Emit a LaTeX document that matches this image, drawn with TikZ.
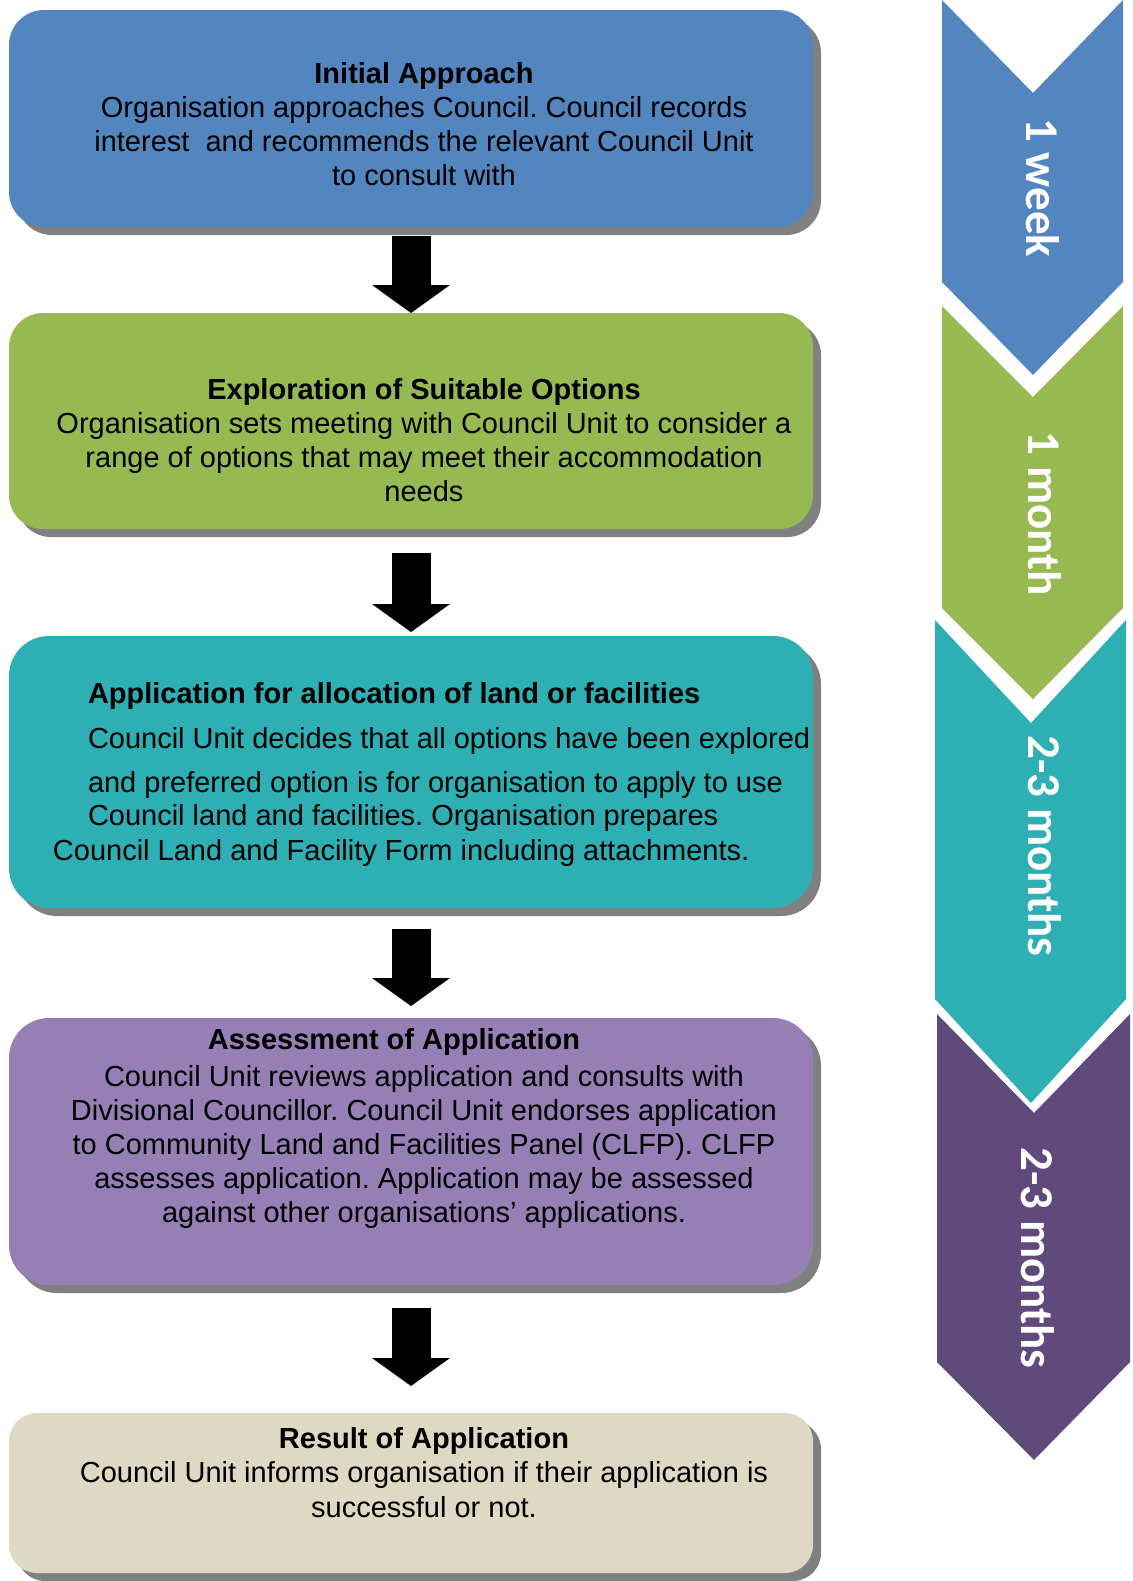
\documentclass[tikz,border=0pt]{standalone}
\usepackage{fontspec}
\setmainfont{Liberation Sans}
\newfontfamily\chevfont{Carlito}
\usetikzlibrary{arrows.meta,shadows}
\frenchspacing

\definecolor{stepblue}{HTML}{5385BF}
\definecolor{stepgreen}{HTML}{96B952}
\definecolor{stepteal}{HTML}{2EAFB4}
\definecolor{steppurple}{HTML}{957FB4}
\definecolor{stepbeige}{HTML}{DDD9C3}
\definecolor{chevpurple}{HTML}{5F4A7B}
\definecolor{shadowgray}{HTML}{808080}

\tikzset{
  stagebox/.style={draw=none, inner sep=0pt, outer sep=0pt, minimum width=402pt,
    drop shadow={shadow xshift=4pt, shadow yshift=-4pt, fill=shadowgray, opacity=1}},
  stagetext/.style={inner sep=0pt, outer sep=0pt, text=black,
    font=\fontsize{14.5}{17}\selectfont},
  flowarrow/.style={draw=black, line width=19.5pt,
    -{Triangle[width=39pt,length=14pt,line width=0pt]}},
  chevtext/.style={rotate=-90, anchor=base, inner sep=0pt, text=white,
    font=\chevfont\bfseries\fontsize{23.5}{26}\selectfont}
}

\begin{document}
\begin{tikzpicture}[x=0.5pt,y=-0.5pt]
\useasboundingbox (0,0) rectangle (1132,1581);

% timeline chevrons
\fill[stepblue]   (942,0) -- (1033,93) -- (1123,0) -- (1123,282) -- (1033,375) -- (942,282) -- cycle;
\fill[stepgreen]  (942,306) -- (1033,397) -- (1123,306) -- (1123,608) -- (1033,699) -- (942,608) -- cycle;
\fill[stepteal]   (935,620) -- (1031,723) -- (1126,620) -- (1126,999) -- (1031,1103) -- (935,999) -- cycle;
\fill[chevpurple] (937,1014) -- (1034,1113) -- (1130,1014) -- (1130,1362) -- (1034,1460) -- (937,1362) -- cycle;

\node[chevtext] (d1) at (1026,188)  {1 week};
\node[chevtext] (d2) at (1028,514)  {1 month};
\node[chevtext] (d3) at (1028,846)  {2-3 months};
\node[chevtext] (d4) at (1021,1258) {2-3 months};

% process stages
\node[stagebox, fill=stepblue,   minimum height=108.5pt, rounded corners=17.5pt] (b1) at (411,118.5) {};
\node[stagebox, fill=stepgreen,  minimum height=108pt,   rounded corners=17pt]   (b2) at (411,421)   {};
\node[stagebox, fill=stepteal,   minimum height=136pt,   rounded corners=20pt]   (b3) at (411,772)   {};
\node[stagebox, fill=steppurple, minimum height=133.5pt, rounded corners=20pt]   (b4) at (411,1151.5) {};
\node[stagebox, fill=stepbeige,  minimum height=80pt,    rounded corners=14pt]   (b5) at (411,1493)  {};

\node[stagetext, anchor=base] (t1) at (424,83) {\parbox[t]{395pt}{\centering
  \textbf{Initial Approach}\\
  Organisation approaches Council. Council records\\
  interest\ \ and recommends the relevant Council Unit\\
  to consult with}};

\node[stagetext, anchor=base] (t2) at (424,399) {\parbox[t]{395pt}{\centering
  \textbf{Exploration of Suitable Options}\\
  Organisation sets meeting with Council Unit to consider a\\
  range of options that may meet their accommodation\\
  needs}};

\node[stagetext, anchor=base west] (t3) at (88,703) {\parbox[t]{380pt}{\raggedright
  \textbf{Application for allocation of land or facilities}\\[5.5pt]
  Council Unit decides that all options have been explored\\[5pt]
  and preferred option is for organisation to apply to use\\[-0.5pt]
  Council land and facilities. Organisation prepares\\[0.5pt]
  \hspace*{-17.5pt}Council Land and Facility Form including attachments.}};

\node[stagetext, anchor=base] (t4) at (424,1049) {\parbox[t]{395pt}{\centering
  \hspace*{-30pt}\textbf{Assessment of Application}\\[1.5pt]
  Council Unit reviews application and consults with\\
  Divisional Councillor. Council Unit endorses application\\
  to Community Land and Facilities Panel (CLFP). CLFP\\
  assesses application. Application may be assessed\\
  against other organisations’ applications.}};

\node[stagetext, anchor=base] (t5) at (424,1448) {\parbox[t]{395pt}{\centering
  \textbf{Result of Application}\\
  Council Unit informs organisation if their application is\\[0.5pt]
  successful or not.}};

% arrows between stages
\draw[flowarrow] ([yshift=-4.5pt]b1.south)  -- (b2.north);
\draw[flowarrow] ([yshift=-12pt]b2.south)   -- ([yshift=2pt]b3.north);
\draw[flowarrow] ([yshift=-10.5pt]b3.south) -- ([yshift=6pt]b4.north);
\draw[flowarrow] ([yshift=-11.5pt]b4.south) -- ([yshift=13.5pt]b5.north);
\end{tikzpicture}
\end{document}
